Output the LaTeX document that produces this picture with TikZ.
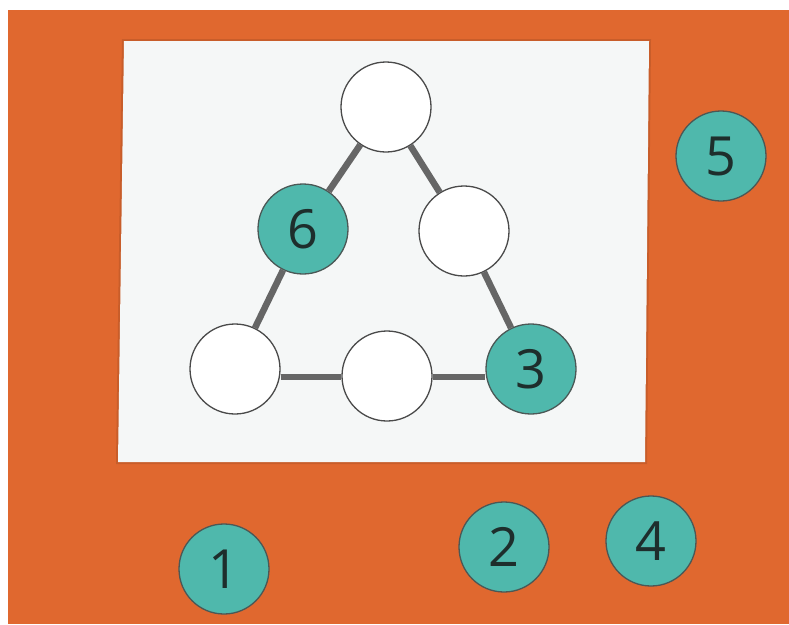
\documentclass[tikz,border=0pt]{standalone}
\usepackage{fontspec}
\setmainfont{Open Sans}
\definecolor{bgorange}{HTML}{E0682F}
\definecolor{cardwhite}{HTML}{F5F7F7}
\definecolor{tokenteal}{HTML}{4FB8AC}
\definecolor{edgegray}{HTML}{666666}
\definecolor{ringgray}{HTML}{4A4A4A}
\definecolor{digitdark}{HTML}{1E2E2C}
\tikzset{
  slot/.style={circle, draw=ringgray, line width=1.3pt, fill=white, minimum size=90pt, inner sep=0pt},
  token/.style={circle, draw=digitdark!80, line width=1.3pt, fill=tokenteal, minimum size=90pt, inner sep=0pt,
    font=\fontsize{54pt}{54pt}\selectfont, text=digitdark},
  link/.style={draw=edgegray, line width=6.5pt}
}
\begin{document}
\begin{tikzpicture}[x=1pt,y=-1pt]
\useasboundingbox (0,0) rectangle (789,624);
\fill[white] (0,0) rectangle (789,624);
\fill[bgorange] (8,10) rectangle (789,624);
% card
\fill[bgorange!70!black, opacity=0.35] (122,39) -- (651,39) -- (647,464) -- (116,464) -- cycle;
\fill[cardwhite] (124,41) -- (649,41) -- (645,462) -- (118,462) -- cycle;
% nodes
\node[slot] (top) at (386,107) {};
\node[token] (six) at (303,229) {6};
\node[slot] (rmid) at (464,231) {};
\node[slot] (bl) at (235,369) {};
\node[slot] (bmid) at (387,376) {};
\node[token] (three) at (531,369) {3};
% links
\path[link] (top) -- (six);
\path[link] (six) -- (bl);
\path[link] (top) -- (rmid);
\path[link] (rmid) -- (three);
\path[link] (bl.east) ++(0,8) -- (bmid.west |- 0,377);
\path[link] (bmid.east) ++(0,1) -- (three.west |- 0,377);
% loose tokens
\node[token] (t5) at (721,156) {5};
\node[token] (t1) at (224,569) {1};
\node[token] (t2) at (504,547) {2};
\node[token] (t4) at (651,541) {4};
\end{tikzpicture}
\end{document}
